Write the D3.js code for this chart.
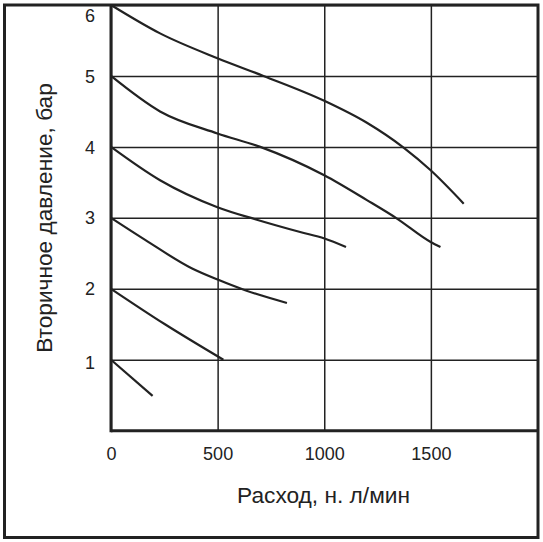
<!DOCTYPE html>
<html lang="ru">
    <head>
        <meta charset="utf-8">
        <title>Вторичное давление</title>
        <script src="https://d3js.org/d3.v7.min.js"></script>
        <style>
          body { margin: 0; background: #fff; }
          text { font-family: "Liberation Sans", Arial, sans-serif; fill: #222; }
          .tick line { stroke: #222; stroke-width: 1.5; }
          .curve { fill: none; stroke: #222; stroke-width: 2.2; }
      </style>
    </head>
    <body>
        <script type="text/javascript">
            // размеры окна
            var w = 543, h = 542;

            // данные: расход (н. л/мин) и вторичное давление (бар) для каждой кривой
            var flow6 = [0, 230, 499, 715, 1000, 1200, 1372, 1499, 1654];
            var pres6 = [6.0, 5.60, 5.25, 5.0, 4.65, 4.34, 3.99, 3.67, 3.20];
            var flow5 = [0, 230, 499, 700, 1000, 1200, 1341, 1499, 1545];
            var pres5 = [5.0, 4.50, 4.19, 4.00, 3.60, 3.25, 2.99, 2.66, 2.59];
            var flow4 = [0, 230, 499, 676, 887, 1001, 1102];
            var pres4 = [4.0, 3.53, 3.15, 2.98, 2.80, 2.71, 2.59];
            var flow3 = [0, 160, 378, 500, 629, 825];
            var pres3 = [3.0, 2.69, 2.29, 2.13, 1.98, 1.80];
            var flow2 = [0, 253, 527];
            var pres2 = [2.0, 1.50, 1.00];
            var flow1 = [0, 195];
            var pres1 = [1.0, 0.49];

            var xTicks = [0, 500, 1000, 1500];
            var yTicks = [1, 2, 3, 4, 5, 6];
            var xTitle = "Расход, н. л/мин";
            var yTitle = "Вторичное давление, бар";

            var curves = [[flow6, pres6], [flow5, pres5], [flow4, pres4],
                          [flow3, pres3], [flow2, pres2], [flow1, pres1]];

            var svg = d3.select("body").append("svg")
                        .attr("width", w).attr("height", h);

            // область графика
            var pLeft = 111, pRight = 537.5, pTop = 5, pBottom = 430.7;

            var x = d3.scaleLinear().domain([0, 2000]).range([pLeft, pRight]);
            var y = d3.scaleLinear().domain([0, 6]).range([pBottom, pTop]);

            // сетка + подписи по X
            var gx = svg.append("g")
                .attr("transform", "translate(0," + pBottom + ")")
                .call(d3.axisBottom(x).tickValues(xTicks).tickFormat(d3.format("d"))
                        .tickSizeInner(-(pBottom - pTop)).tickSizeOuter(0)
                        .tickPadding(16.5));
            gx.select(".domain").remove();

            // сетка + подписи по Y
            var gy = svg.append("g")
                .attr("transform", "translate(" + pLeft + ",0)")
                .call(d3.axisLeft(y).tickValues(yTicks).tickFormat(d3.format("d"))
                        .tickSizeInner(-(pRight - pLeft)).tickSizeOuter(0)
                        .tickPadding(16));
            gy.select(".domain").remove();
            // верхняя подпись сдвинута вниз, чтобы не выходить за рамку
            gy.selectAll(".tick text")
              .attr("dy", function(d){ return d === 6 ? "0.9em" : (d === 1 ? "0.48em" : "0.34em"); });

            svg.selectAll(".tick text")
               .style("font-family", "'Liberation Sans', Arial, sans-serif")
               .style("font-size", "18px")
               .style("fill", "#222");

            // оси
            svg.append("line").attr("x1", pLeft).attr("x2", pLeft)
               .attr("y1", pTop).attr("y2", pBottom + 1.5)
               .attr("stroke", "#222").attr("stroke-width", 3);
            svg.append("line").attr("x1", pLeft).attr("x2", pRight)
               .attr("y1", pBottom).attr("y2", pBottom)
               .attr("stroke", "#222").attr("stroke-width", 3);

            // кривые
            var line = d3.line()
                .x(function(d){ return x(d[0]); })
                .y(function(d){ return y(d[1]); })
                .curve(d3.curveMonotoneX);

            svg.selectAll(".curve")
               .data(curves)
               .enter()
               .append("path")
               .attr("class", "curve")
               .attr("d", function(c){ return line(d3.zip(c[0], c[1])); });

            // подписи осей
            svg.append("text")
               .attr("x", 323.5).attr("y", 503.3)
               .attr("text-anchor", "middle")
               .style("font-size", "22.7px")
               .text(xTitle);

            svg.append("text")
               .attr("transform", "translate(51.5,218) rotate(-90)")
               .attr("text-anchor", "middle")
               .style("font-size", "22.7px")
               .text(yTitle);

            // рамка
            svg.append("rect")
               .attr("x", 4.5).attr("y", 5)
               .attr("width", 538 - 4.5).attr("height", 537.5 - 5)
               .attr("fill", "none").attr("stroke", "#222").attr("stroke-width", 3);
        </script>
    </body>
</html>
